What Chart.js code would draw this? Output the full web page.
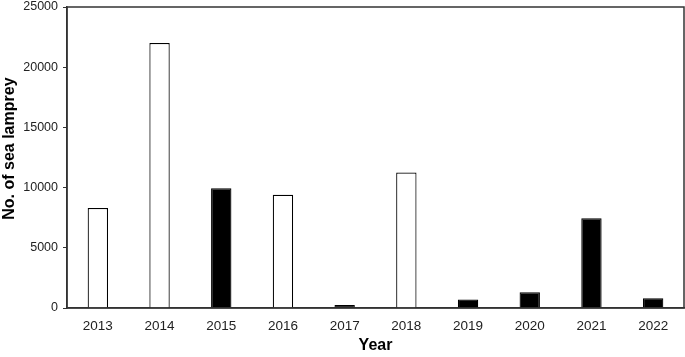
<!DOCTYPE html>
<html>
<head>
<meta charset="utf-8">
<script src="https://cdn.jsdelivr.net/npm/chart.js@4/dist/chart.umd.min.js"></script>
<style>
  html, body { margin: 0; padding: 0; background: #fff; }
  #wrap { width: 685px; height: 357px; }
</style>
</head>
<body>
<div id="wrap"><canvas id="c" width="685" height="357"></canvas></div>
<script>
const years = ['2013', '2014', '2015', '2016', '2017', '2018', '2019', '2020', '2021', '2022'];
const counts = [8300, 22000, 9950, 9400, 250, 11250, 700, 1300, 7450, 820];
// open = white bar, filled = black bar
const barStyle = ['open', 'open', 'filled', 'open', 'filled', 'open', 'filled', 'filled', 'filled', 'filled'];
const yTicks = [0, 5000, 10000, 15000, 20000, 25000];

const frame = {
  id: 'frame',
  afterDatasetsDraw(chart) {
    const a = chart.chartArea;
    const ctx = chart.ctx;
    ctx.save();
    ctx.strokeStyle = '#333';
    ctx.lineWidth = 1.5;
    ctx.strokeRect(a.left, a.top, a.right - a.left, a.bottom - a.top);
    ctx.restore();
  }
};

const data = {
  labels: years,
  datasets: [{
    data: counts,
    backgroundColor: barStyle.map(s => s === 'filled' ? '#000' : '#fff'),
    borderColor: '#000',
    borderWidth: 1.2,
    categoryPercentage: 1,
    barPercentage: 0.33
  }]
};

const config = {
  type: 'bar',
  data: data,
  plugins: [frame],
  options: {
    responsive: false,
    animation: false,
    layout: { padding: { top: 0, right: 1, left: 0, bottom: 0 } },
    plugins: { legend: { display: false }, tooltip: { enabled: false } },
    scales: {
      y: {
        min: 0,
        max: 25000,
        afterFit: s => { s.width = 67; s.paddingTop = 7; s.paddingBottom = 0; },
        afterBuildTicks: s => { s.ticks = yTicks.map(v => ({ value: v })); },
        grid: { drawOnChartArea: false, drawTicks: true, tickLength: 4, color: '#333' },
        border: { display: true, color: '#333', width: 1.5 },
        ticks: {
          padding: 5,
          color: '#222',
          callback: v => String(v),
          font: { family: 'Liberation Sans, Arial', size: 12.5 }
        },
        title: {
          display: true,
          text: '    No. of sea lamprey',
          color: '#000',
          padding: { top: 0, bottom: 0 },
          font: { family: 'Liberation Sans, Arial', size: 16, weight: 'bold' }
        }
      },
      x: {
        afterFit: s => { s.height = 49; },
        grid: { drawOnChartArea: false, drawTicks: false },
        border: { display: true, color: '#333', width: 1.5 },
        ticks: { padding: 10, color: '#222', maxRotation: 0, font: { family: 'Liberation Sans, Arial', size: 13.5 } },
        title: {
          display: true,
          text: 'Year',
          color: '#000',
          padding: { top: 0, bottom: 2 },
          font: { family: 'Liberation Sans, Arial', size: 16, weight: 'bold' }
        }
      }
    }
  }
};

new Chart(document.getElementById('c'), config);
</script>
</body>
</html>
